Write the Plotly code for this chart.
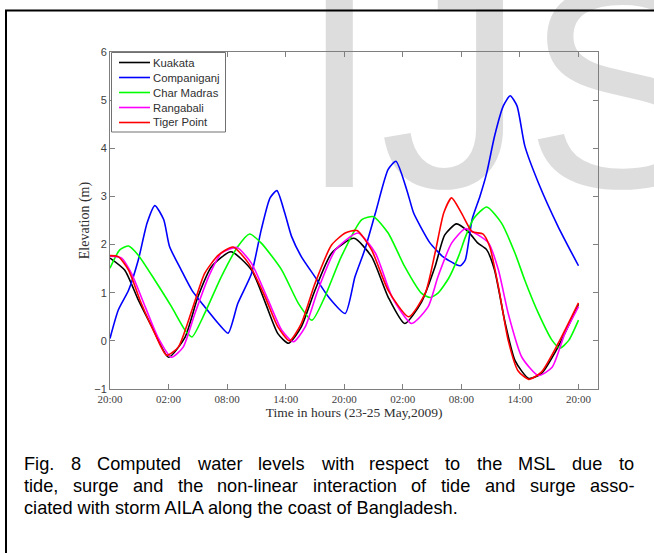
import plotly.graph_objects as go

# ---------------- data ----------------
tick_hours = [0, 6, 12, 18, 24, 30, 36, 42, 48]
tick_labels = ["20:00", "02:00", "08:00", "14:00", "20:00", "02:00", "08:00", "14:00", "20:00"]
y_ticks = [-1, 0, 1, 2, 3, 4, 5, 6]

names = ["Kuakata", "Companiganj", "Char Madras", "Rangabali", "Tiger Point"]
colors = ["#000000", "#0000ff", "#00ff00", "#ff00ff", "#ff0000"]

kuakata_t = [0, 1.5, 2.9, 4.3, 6.0, 7.7, 9.0, 10.4, 12.4, 14.5, 15.9, 17.2, 18.3, 19.6, 21.0, 22.7,
             25.0, 26.8, 28.5, 30.2, 31.9, 33.3, 34.3, 35.5, 36.7, 37.7, 38.6, 39.4, 40.5, 41.5,
             42.9, 44.2, 45.9, 48.0]
kuakata_v = [1.72, 1.47, 0.85, 0.29, -0.34, 0.08, 0.91, 1.54, 1.85, 1.47, 0.80, 0.15, -0.05, 0.29,
             1.05, 1.82, 2.13, 1.75, 0.91, 0.36, 0.80, 1.54, 2.20, 2.43, 2.27, 2.03, 1.89, 1.47,
             0.36, -0.41, -0.78, -0.68, -0.13, 0.76]

companiganj_t = [0, 0.85, 1.9, 2.9, 3.8, 4.6, 5.5, 6.1, 7.3, 8.4, 9.7, 11.1, 12.1, 13.1, 14.5, 15.5,
                 16.4, 17.1, 17.9, 18.6, 19.6, 21.0, 22.4, 24.1, 25.1, 26.1, 27.2, 28.5, 29.3, 30.4,
                 31.1, 31.8, 32.8, 34.1, 35.5, 35.9, 36.4, 37.1, 37.9, 38.6, 39.4, 40.3, 41.0, 41.7,
                 42.5, 43.9, 45.9, 48.0]
companiganj_v = [0.05, 0.64, 1.05, 1.68, 2.45, 2.81, 2.52, 1.96, 1.47, 1.05, 0.71, 0.36, 0.16, 0.78,
                 1.40, 2.31, 2.97, 3.12, 2.66, 2.17, 1.75, 1.33, 0.91, 0.57, 1.33, 1.89, 2.66, 3.56,
                 3.73, 3.14, 2.66, 2.38, 2.03, 1.75, 1.58, 1.56, 1.68, 2.52, 3.00, 3.49, 4.25, 4.88,
                 5.09, 4.88, 4.05, 3.28, 2.38, 1.56]

char_madras_t = [0, 1.0, 1.9, 2.9, 4.6, 6.3, 7.7, 8.4, 9.7, 11.4, 13.1, 14.3, 15.5, 17.6, 19.3, 20.7,
                 22.0, 23.7, 25.8, 27.0, 28.5, 30.2, 31.9, 32.8, 33.6, 34.7, 35.7, 36.4, 37.3, 38.6,
                 40.1, 41.5, 42.5, 43.9, 45.3, 46.1, 47.0, 48.0]
char_madras_v = [1.51, 1.89, 1.97, 1.78, 1.26, 0.71, 0.22, 0.08, 0.57, 1.33, 1.96, 2.22, 2.03, 1.47,
                 0.78, 0.43, 0.91, 1.75, 2.52, 2.58, 2.24, 1.54, 0.99, 0.90, 0.99, 1.30, 1.75, 2.15,
                 2.55, 2.78, 2.45, 1.82, 1.26, 0.57, 0.01, -0.15, 0.01, 0.43]

rangabali_t = [0, 1.2, 2.2, 3.6, 4.9, 6.3, 7.5, 8.7, 10.1, 11.4, 13.0, 14.5, 16.2, 17.6, 18.8, 20.0,
               21.3, 23.1, 25.4, 27.2, 28.9, 30.9, 32.6, 33.6, 35.0, 36.4, 37.7, 38.8, 39.8, 40.8,
               42.2, 43.9, 45.3, 46.6, 48.0]
rangabali_v = [1.76, 1.72, 1.40, 0.71, 0.08, -0.34, -0.13, 0.57, 1.33, 1.82, 1.94, 1.61, 0.85, 0.22,
               -0.02, 0.29, 1.05, 1.89, 2.24, 1.82, 0.91, 0.36, 0.71, 1.33, 2.03, 2.33, 2.20, 2.03,
               1.47, 0.57, -0.34, -0.72, -0.55, 0.15, 0.71]

tiger_point_t = [0, 0.85, 1.9, 3.2, 4.6, 5.8, 7.0, 8.4, 9.7, 11.1, 12.6, 14.2, 15.9, 17.2, 18.4, 19.6,
                 21.0, 22.7, 24.1, 25.3, 26.8, 28.5, 30.6, 32.3, 33.3, 34.2, 35.0, 36.0, 37.1, 38.2,
                 38.9, 39.8, 40.8, 41.8, 42.9, 44.2, 45.9, 48.0]
tiger_point_v = [1.77, 1.75, 1.47, 0.78, 0.15, -0.30, -0.13, 0.64, 1.40, 1.78, 1.95, 1.61, 0.91, 0.29,
                 0.00, 0.36, 1.19, 1.99, 2.24, 2.29, 1.89, 1.05, 0.50, 0.99, 1.82, 2.66, 2.97, 2.66,
                 2.27, 2.22, 1.96, 1.12, 0.01, -0.62, -0.80, -0.65, -0.06, 0.79]

series_t = [kuakata_t, companiganj_t, char_madras_t, rangabali_t, tiger_point_t]
series_v = [kuakata_v, companiganj_v, char_madras_v, rangabali_v, tiger_point_v]

x_title = "Time in hours (23-25 May,2009)"
y_title = "Elevation (m)"
watermark = "IJS"
caption_lines = [
    "Fig. 8 Computed water levels with respect to the MSL due to",
    "tide, surge and the non-linear interaction of tide and surge asso-",
    "ciated with storm AILA along the coast of Bangladesh.",
]

# ---------------- layout geometry ----------------
W, H = 654, 553
ML, MR, MT, MB = 110, 56, 52, 164
PW, PH = W - ML - MR, H - MT - MB


def px(x):
    return (x - ML) / PW


def py(y):
    return (H - MB - y) / PH


fig = go.Figure()
for name, color, t, v in zip(names, colors, series_t, series_v):
    fig.add_trace(go.Scatter(x=t, y=v, mode="lines", name=name,
                             line=dict(color=color, width=1.6, shape="spline", smoothing=0.6),
                             showlegend=False, hoverinfo="skip"))

axis_gray = "#7f7f7f"
fig.update_layout(
    width=W, height=H,
    margin=dict(l=ML, r=MR, t=MT, b=MB, pad=0),
    paper_bgcolor="white", plot_bgcolor="rgba(0,0,0,0)",
    showlegend=False,
)
fig.update_xaxes(
    range=[0, 50], tickvals=tick_hours, ticktext=tick_labels,
    ticks="inside", ticklen=5, tickcolor=axis_gray, tickwidth=1,
    showline=True, linecolor=axis_gray, linewidth=1, mirror="ticks",
    showgrid=False, zeroline=False, automargin=False,
    tickfont=dict(family="Liberation Serif", size=11, color="#404040"),
    title=dict(text=x_title, standoff=2,
               font=dict(family="Liberation Serif", size=13.5, color="#303030")),
)
fig.update_yaxes(
    range=[-1, 6], tickvals=y_ticks,
    ticks="inside", ticklen=5, tickcolor=axis_gray, tickwidth=1,
    showline=True, linecolor=axis_gray, linewidth=1, mirror="ticks",
    showgrid=False, zeroline=False, automargin=False,
    tickfont=dict(family="Liberation Sans", size=11, color="#404040"),
    title=dict(text=y_title, standoff=1,
               font=dict(family="Liberation Serif", size=14, color="#303030")),
)

shapes = []
annotations = []

# watermark (drawn beneath the data)
WM_SIZE = 290
shapes.append(dict(type="rect", xref="paper", yref="paper",
                   x0=px(296), x1=px(900), y0=py(700), y1=py(187 - WM_SIZE),
                   line=dict(width=0), fillcolor="rgba(0,0,0,0)", layer="below",
                   label=dict(text=watermark, textposition="top left", padding=0,
                              font=dict(family="Liberation Sans", size=WM_SIZE, color="#dddddd"))))

# outer frame
shapes.append(dict(type="rect", xref="paper", yref="paper",
                   x0=px(6), x1=px(720), y0=py(620), y1=py(10.5),
                   line=dict(color="black", width=2), fillcolor="rgba(0,0,0,0)", layer="above"))

# legend box
LEG_L, LEG_R, LEG_T, LEG_B = 111.5, 225.5, 52.5, 132
shapes.append(dict(type="rect", xref="paper", yref="paper",
                   x0=px(LEG_L), x1=px(LEG_R), y0=py(LEG_B), y1=py(LEG_T),
                   line=dict(color="#707070", width=1), fillcolor="white", layer="above"))
for i, (name, color) in enumerate(zip(names, colors)):
    yy = 62.5 + 15 * i
    shapes.append(dict(type="line", xref="paper", yref="paper",
                       x0=px(119), x1=px(150), y0=py(yy), y1=py(yy),
                       line=dict(color=color, width=1.6), layer="above"))
    annotations.append(dict(text=name, xref="paper", yref="paper", x=px(153), y=py(yy),
                            xanchor="left", yanchor="middle", showarrow=False,
                            borderpad=0, borderwidth=0,
                            font=dict(family="Liberation Sans", size=11.3, color="#303030")))

# caption (justified like the source)
AW = {' ': 278, ',': 278, '-': 333, '.': 278, ':': 278, '(': 333, ')': 333,
      'A': 667, 'B': 667, 'C': 722, 'F': 611, 'I': 278, 'L': 556, 'M': 833, 'S': 667,
      'a': 556, 'b': 556, 'c': 500, 'd': 556, 'e': 556, 'f': 278, 'g': 556, 'h': 556,
      'i': 222, 'j': 222, 'k': 500, 'l': 222, 'm': 833, 'n': 556, 'o': 556, 'p': 556,
      'q': 556, 'r': 333, 's': 500, 't': 278, 'u': 556, 'v': 500, 'w': 722, 'x': 500,
      'y': 500, 'z': 500}
for d in "0123456789":
    AW[d] = 556


def tw(s, size):
    return sum(AW.get(c, 556) for c in s) * size / 1000.0


CAP_SIZE = 18.2
CAP_L, CAP_R = 24, 634
cap_font = dict(family="Liberation Sans", size=CAP_SIZE, color="#000000")
for k, line in enumerate(caption_lines):
    base = 470 + 22 * k
    yc = base - 0.33 * CAP_SIZE
    words = line.split(" ")
    if k < len(caption_lines) - 1:
        total = sum(tw(w, CAP_SIZE) for w in words)
        gap = (CAP_R - CAP_L - total) / (len(words) - 1)
        xpos = CAP_L
        for w in words:
            annotations.append(dict(text=w, xref="paper", yref="paper", x=px(xpos), y=py(yc),
                                    xanchor="left", yanchor="middle", showarrow=False,
                                    borderpad=0, borderwidth=0, font=cap_font))
            xpos += tw(w, CAP_SIZE) + gap
    else:
        annotations.append(dict(text=line, xref="paper", yref="paper", x=px(CAP_L), y=py(yc),
                                xanchor="left", yanchor="middle", showarrow=False,
                                borderpad=0, borderwidth=0, font=cap_font))

fig.update_layout(shapes=shapes, annotations=annotations)
fig.write_html("out.html")
